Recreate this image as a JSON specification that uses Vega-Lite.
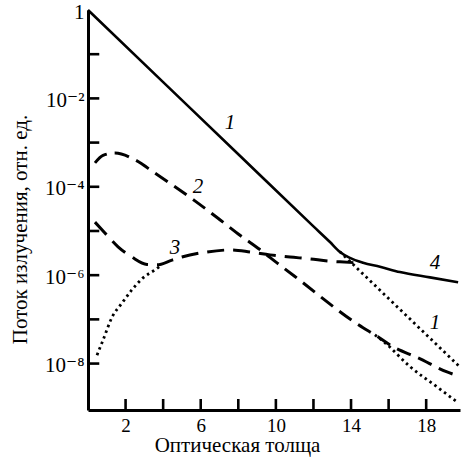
{
  "$schema": "https://vega.github.io/schema/vega-lite/v6.json",
  "width": 372,
  "height": 400,
  "autosize": {"type": "none"},
  "padding": {"left": 88, "top": 10, "right": 1, "bottom": 47},
  "background": "white",
  "config": {"view": {"stroke": null}, "font": "Liberation Serif, Times New Roman, DejaVu Serif, serif"},
  "datasets": {
    "curves": [
      {"s": "1", "x": 0, "y": 1},
      {"s": "1", "x": 4, "y": 0.02333},
      {"s": "1", "x": 8, "y": 0.0005445},
      {"s": "1", "x": 12, "y": 1.27e-5},
      {"s": "1", "x": 12.88, "y": 5.62e-6},
      {"s": "1", "x": 13.41, "y": 3.35e-6},
      {"s": "1", "x": 13.94, "y": 2.455e-6},
      {"s": "1", "x": 14.64, "y": 1.905e-6},
      {"s": "1", "x": 15.54, "y": 1.55e-6},
      {"s": "1", "x": 16.6, "y": 1.175e-6},
      {"s": "1", "x": 18.2, "y": 8.91e-7},
      {"s": "1", "x": 19.7, "y": 6.92e-7},
      {"s": "1dot", "x": 13.4, "y": 3.41e-6},
      {"s": "1dot", "x": 16, "y": 2.965e-7},
      {"s": "1dot", "x": 19.8, "y": 8.35e-9},
      {"s": "2", "x": 0.37, "y": 3.47e-4},
      {"s": "2", "x": 0.8, "y": 5.13e-4},
      {"s": "2", "x": 1.44, "y": 5.82e-4},
      {"s": "2", "x": 2.5, "y": 4.07e-4},
      {"s": "2", "x": 3.56, "y": 2.04e-4},
      {"s": "2", "x": 4.63, "y": 1.0e-4},
      {"s": "2", "x": 5.69, "y": 4.8e-5},
      {"s": "2", "x": 7.02, "y": 1.8e-5},
      {"s": "2", "x": 8.09, "y": 8.0e-6},
      {"s": "2", "x": 9.15, "y": 3.8e-6},
      {"s": "2", "x": 10.06, "y": 1.9e-6},
      {"s": "2", "x": 11.12, "y": 8.6e-7},
      {"s": "2", "x": 14.64, "y": 6.46e-8},
      {"s": "2", "x": 15.27, "y": 4.47e-8},
      {"s": "2", "x": 16.23, "y": 2.4e-8},
      {"s": "2", "x": 17.56, "y": 1.35e-8},
      {"s": "2", "x": 19.11, "y": 6.46e-9},
      {"s": "2", "x": 19.7, "y": 5.25e-9},
      {"s": "2dot", "x": 15.27, "y": 4.47e-8},
      {"s": "2dot", "x": 15.81, "y": 2.95e-8},
      {"s": "2dot", "x": 17.14, "y": 8.5e-9},
      {"s": "2dot", "x": 18.56, "y": 3.0e-9},
      {"s": "2dot", "x": 19.7, "y": 1.3e-9},
      {"s": "3", "x": 0.37, "y": 1.585e-5},
      {"s": "3", "x": 0.9, "y": 9.02e-6},
      {"s": "3", "x": 1.6, "y": 4.37e-6},
      {"s": "3", "x": 2.34, "y": 2.57e-6},
      {"s": "3", "x": 3.14, "y": 1.75e-6},
      {"s": "3", "x": 3.67, "y": 1.72e-6},
      {"s": "3", "x": 4.47, "y": 2.19e-6},
      {"s": "3", "x": 5.0, "y": 2.57e-6},
      {"s": "3", "x": 6.33, "y": 3.35e-6},
      {"s": "3", "x": 7.56, "y": 3.72e-6},
      {"s": "3", "x": 8.62, "y": 3.35e-6},
      {"s": "3", "x": 9.69, "y": 2.88e-6},
      {"s": "3", "x": 10.75, "y": 2.57e-6},
      {"s": "3", "x": 11.81, "y": 2.34e-6},
      {"s": "3", "x": 12.77, "y": 2.09e-6},
      {"s": "3", "x": 13.41, "y": 2.0e-6},
      {"s": "3", "x": 14.32, "y": 1.905e-6},
      {"s": "3dot", "x": 0.48, "y": 1.55e-8},
      {"s": "3dot", "x": 0.8, "y": 3.39e-8},
      {"s": "3dot", "x": 1.28, "y": 1.12e-7},
      {"s": "3dot", "x": 1.81, "y": 2.34e-7},
      {"s": "3dot", "x": 2.34, "y": 4.68e-7},
      {"s": "3dot", "x": 2.93, "y": 8.71e-7},
      {"s": "3dot", "x": 3.57, "y": 1.32e-6},
      {"s": "3dot", "x": 3.9, "y": 1.66e-6}
    ],
    "labels": [
      {"t": "1", "x": 7.56, "y": 2.78e-3},
      {"t": "2", "x": 5.85, "y": 1.0e-4},
      {"t": "3", "x": 4.63, "y": 4.12e-6},
      {"t": "4", "x": 18.47, "y": 1.9e-6},
      {"t": "1", "x": 18.47, "y": 8.3e-8}
    ]
  },
  "layer": [
    {
      "data": {"values": [{"tx": 2}, {"tx": 4}, {"tx": 6}, {"tx": 8}, {"tx": 10}, {"tx": 12}, {"tx": 14}, {"tx": 16}, {"tx": 18}]},
      "mark": {"type": "rule", "stroke": "#000000", "strokeWidth": 2.6, "opacity": 1, "strokeOpacity": 1},
      "encoding": {
        "x": {
          "field": "tx", "type": "quantitative",
          "scale": {"domain": [0, 19.8], "nice": false, "zero": false},
          "axis": {
            "values": [2, 6, 10, 14, 18],
            "grid": false, "ticks": false,
            "domainWidth": 3, "domainColor": "black",
            "labelFont": "Liberation Serif, Times New Roman, DejaVu Serif, serif", "labelFontSize": 19, "labelColor": "black",
            "labelPadding": 21, "labelBaseline": "alphabetic",
            "title": "Оптическая толща",
            "titleFont": "Liberation Serif, Times New Roman, DejaVu Serif, serif", "titleFontSize": 21, "titleFontWeight": "normal", "titleColor": "black",
            "titleX": 149, "titleY": 41, "titleBaseline": "alphabetic", "titleAlign": "center"
          }
        },
        "y": {
          "datum": 8.9e-10, "type": "quantitative",
          "scale": {"type": "log", "domain": [8.9e-10, 1], "nice": false},
          "axis": {
            "values": [1, 0.01, 0.0001, 1e-6, 1e-8],
            "labelExpr": "round(log(datum.value)/LN10) == 0 ? '1' : round(log(datum.value)/LN10) == -2 ? '10⁻²' : round(log(datum.value)/LN10) == -4 ? '10⁻⁴' : round(log(datum.value)/LN10) == -6 ? '10⁻⁶' : round(log(datum.value)/LN10) == -8 ? '10⁻⁸' : ''",
            "grid": false, "ticks": false,
            "domainWidth": 3, "domainColor": "black",
            "labelFont": "Liberation Serif, Times New Roman, DejaVu Serif, serif", "labelFontSize": 21, "labelColor": "black",
            "labelPadding": 4, "labelBaseline": "middle", "labelOffset": 2,
            "title": "Поток излучения, отн. ед.",
            "titleFont": "Liberation Serif, Times New Roman, DejaVu Serif, serif", "titleFontSize": 21, "titleFontWeight": "normal", "titleColor": "black",
            "titleX": -62, "titleY": 219, "titleBaseline": "alphabetic", "titleAlign": "center", "titleAngle": -90
          }
        },
        "y2": {"datum": 1.58e-9}
      }
    },
    {
      "data": {"values": [{"ty": 0.1}, {"ty": 0.01}, {"ty": 0.001}, {"ty": 0.0001}, {"ty": 1e-5}, {"ty": 1e-6}, {"ty": 1e-7}, {"ty": 1e-8}]},
      "mark": {"type": "rule", "stroke": "#000000", "strokeWidth": 2.6, "opacity": 1, "strokeOpacity": 1},
      "encoding": {
        "y": {"field": "ty", "type": "quantitative"},
        "x": {"datum": 0, "type": "quantitative"},
        "x2": {"datum": 0.6}
      }
    },
    {
      "data": {"name": "curves"},
      "transform": [{"filter": "datum.s == '1'"}],
      "mark": {"type": "line", "color": "black", "strokeWidth": 2.6, "interpolate": "monotone"},
      "encoding": {"x": {"field": "x", "type": "quantitative"}, "y": {"field": "y", "type": "quantitative"}}
    },
    {
      "data": {"name": "curves"},
      "transform": [{"filter": "datum.s == '1dot'"}],
      "mark": {"type": "line", "color": "black", "strokeWidth": 2.8, "strokeDash": [2.5, 3.5], "interpolate": "monotone"},
      "encoding": {"x": {"field": "x", "type": "quantitative"}, "y": {"field": "y", "type": "quantitative"}}
    },
    {
      "data": {"name": "curves"},
      "transform": [{"filter": "datum.s == '2'"}],
      "mark": {"type": "line", "color": "black", "strokeWidth": 3, "strokeDash": [15, 8], "interpolate": "monotone"},
      "encoding": {"x": {"field": "x", "type": "quantitative"}, "y": {"field": "y", "type": "quantitative"}}
    },
    {
      "data": {"name": "curves"},
      "transform": [{"filter": "datum.s == '2dot'"}],
      "mark": {"type": "line", "color": "black", "strokeWidth": 2.8, "strokeDash": [2.5, 3.5], "interpolate": "monotone"},
      "encoding": {"x": {"field": "x", "type": "quantitative"}, "y": {"field": "y", "type": "quantitative"}}
    },
    {
      "data": {"name": "curves"},
      "transform": [{"filter": "datum.s == '3'"}],
      "mark": {"type": "line", "color": "black", "strokeWidth": 3, "strokeDash": [17, 9], "interpolate": "monotone"},
      "encoding": {"x": {"field": "x", "type": "quantitative"}, "y": {"field": "y", "type": "quantitative"}}
    },
    {
      "data": {"name": "curves"},
      "transform": [{"filter": "datum.s == '3dot'"}],
      "mark": {"type": "line", "color": "black", "strokeWidth": 2.8, "strokeDash": [2.5, 3.5], "interpolate": "monotone"},
      "encoding": {"x": {"field": "x", "type": "quantitative"}, "y": {"field": "y", "type": "quantitative"}}
    },
    {
      "data": {"name": "labels"},
      "mark": {"type": "text", "font": "Liberation Serif, Times New Roman, DejaVu Serif, serif", "fontSize": 21, "fontStyle": "italic", "color": "black"},
      "encoding": {"x": {"field": "x", "type": "quantitative"}, "y": {"field": "y", "type": "quantitative"}, "text": {"field": "t"}}
    }
  ]
}
